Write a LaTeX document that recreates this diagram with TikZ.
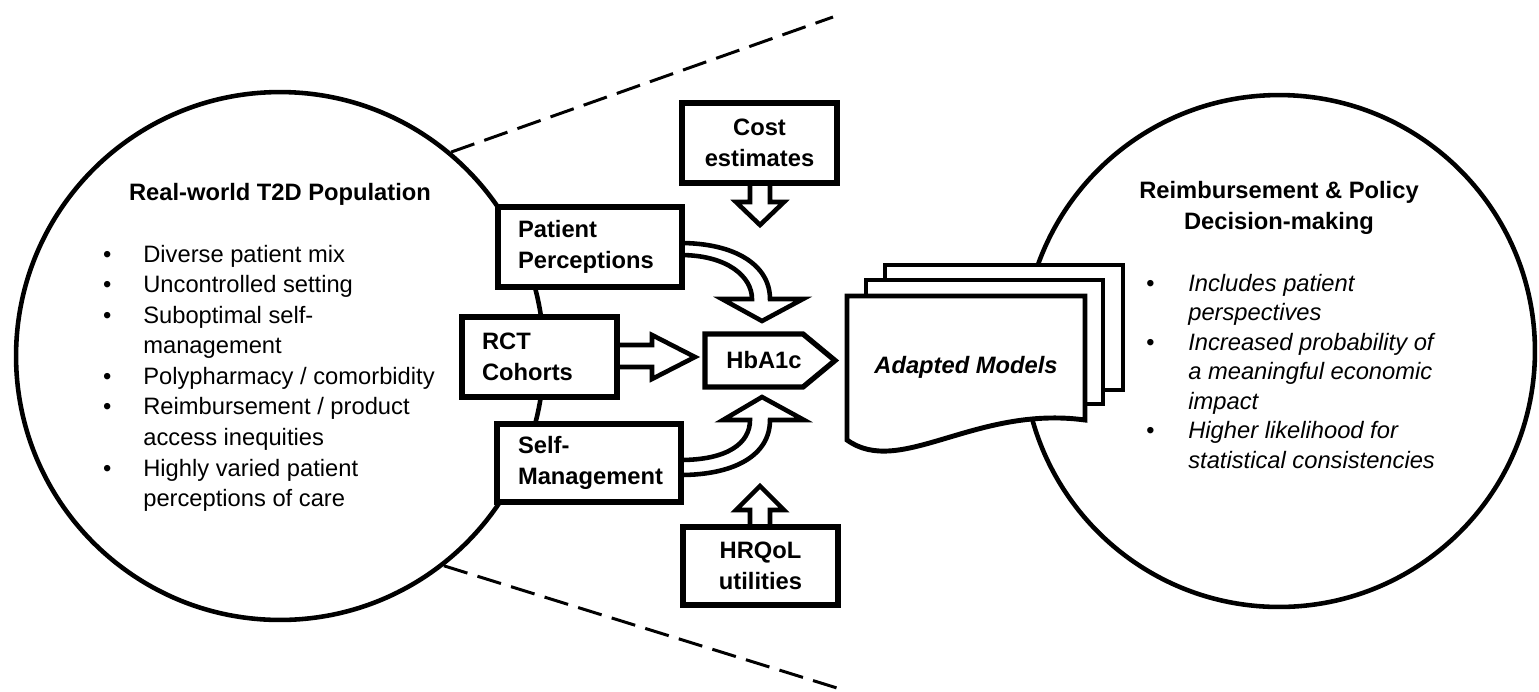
\documentclass[tikz,border=0pt]{standalone}
\usepackage{fontspec}
\setmainfont{Liberation Sans}
\usepackage{tikz}

\newcommand{\bodyfont}{\fontsize{13.5pt}{17.4pt}\selectfont}
\newcommand{\listfont}{\fontsize{13.5pt}{16.8pt}\selectfont}
\newcommand{\dotmark}{\hspace*{-3pt}\textbullet}

\tikzset{
	box/.style={draw, line width=3pt, fill=white, inner sep=0pt, font=\bodyfont\bfseries,
		minimum width=3.1cm, minimum height=1.6cm, align=center},
	widebox/.style={box, minimum width=3.68cm, align=left},
	blockarrow/.style={draw, line width=2.6pt, fill=white},
	sheet/.style={draw, line width=2.8pt, fill=white},
	ring/.style={circle, draw, line width=2.6pt, inner sep=0pt},
	zoomline/.style={line width=1.7pt, dash pattern=on 14pt off 6pt}
}

\begin{document}
\begin{tikzpicture}[x=0.02cm, y=-0.02cm]
		\useasboundingbox (0,0) rectangle (1539,691);

		\coordinate (ztop) at (833,17);
		\coordinate (zbot) at (837,688);

		% the two populations
		\node[ring, minimum size=10.56cm] (lpop) at (280,356) {};
		\node[ring, minimum size=10.24cm] (rdec) at (1279,351) {};

		\draw[zoomline] (lpop.50)  -- (ztop);
		\draw[zoomline] (lpop.-52) -- (zbot);

		% block arrows
		\draw[blockarrow] (750,180) -- (750,202) -- (736,202) -- (760,225) -- (784,202) -- (770,202) -- (770,180);
		\draw[blockarrow] (750,530) -- (750,510) -- (736,510) -- (760,486) -- (784,510) -- (770,510) -- (770,530);
		\draw[blockarrow] (612,345) -- (652,345) -- (652,335) -- (695,357) -- (652,379) -- (652,367) -- (612,367);

		\draw[blockarrow] (680,243) .. controls (735,243) and (770,265) .. (770,299)
			-- (803,299) -- (762,321) -- (722,299) -- (752,299)
			.. controls (752,277) and (728,255) .. (680,255);
		\draw[blockarrow] (680,475) .. controls (735,475) and (770,455) .. (770,420)
			-- (804,420) -- (762,397) -- (723,420) -- (750,420)
			.. controls (750,443) and (728,460) .. (680,460);

		% stacked models
		\draw[sheet] (885,265) rectangle (1123,390);
		\draw[sheet] (866,280) rectangle (1103,404);
		\draw[sheet] (847,296) -- (1085,296) -- (1085,420)
			.. controls (975,405) and (900,478) .. (847,440) -- cycle;
		\node[font=\bodyfont\bfseries\itshape] (models) at (966,367) {Adapted Models};

		% inputs
		\node[box] (cost) at (759.5,143) {Cost\\estimates};
		\node[widebox, text width=2.88cm] (perc) at (590,247) {Patient\\Perceptions};
		\node[box, align=left, text width=2.3cm] (rct) at (539.5,357) {RCT\\Cohorts};
		\node[widebox, text width=2.84cm, minimum height=1.56cm] (self) at (589,463) {Self-\\Management};
		\node[box, minimum height=1.56cm] (hrqol) at (760.5,566) {HRQoL\\utilities};

		\draw[line width=3pt, fill=white] (705,334) -- (803,334) -- (835,360.5) -- (803,387) -- (705,387) -- cycle;
		\node[font=\bodyfont\bfseries] (hba) at (764,360) {HbA1c};

		% texts in the circles
		\node[font=\bodyfont\bfseries] (lhead) at (280,194) {Real-world T2D Population};
		\node[anchor=base west, inner sep=0pt, font=\bodyfont] (llist) at (108,262) {%
			\begin{tabular}[t]{@{}p{0.7cm}@{}l@{}}
				\dotmark & Diverse patient mix\\
				\dotmark & Uncontrolled setting\\
				\dotmark & Suboptimal self-\\
				         & management\\
				\dotmark & Polypharmacy / comorbidity\\
				\dotmark & Reimbursement / product\\
				         & access inequities\\
				\dotmark & Highly varied patient\\
				         & perceptions of care
			\end{tabular}};

		\node[font=\bodyfont\bfseries, align=center] (rhead) at (1279,208) {Reimbursement \& Policy\\Decision-making};
		\node[anchor=base west, inner sep=0pt, font=\listfont\itshape] (rlist) at (1151,291) {%
			\begin{tabular}[t]{@{}p{0.74cm}@{}l@{}}
				\dotmark & Includes patient\\
				         & perspectives\\
				\dotmark & Increased probability of\\
				         & a meaningful economic\\
				         & impact\\
				\dotmark & Higher likelihood for\\
				         & statistical consistencies
			\end{tabular}};
	\end{tikzpicture}
\end{document}
